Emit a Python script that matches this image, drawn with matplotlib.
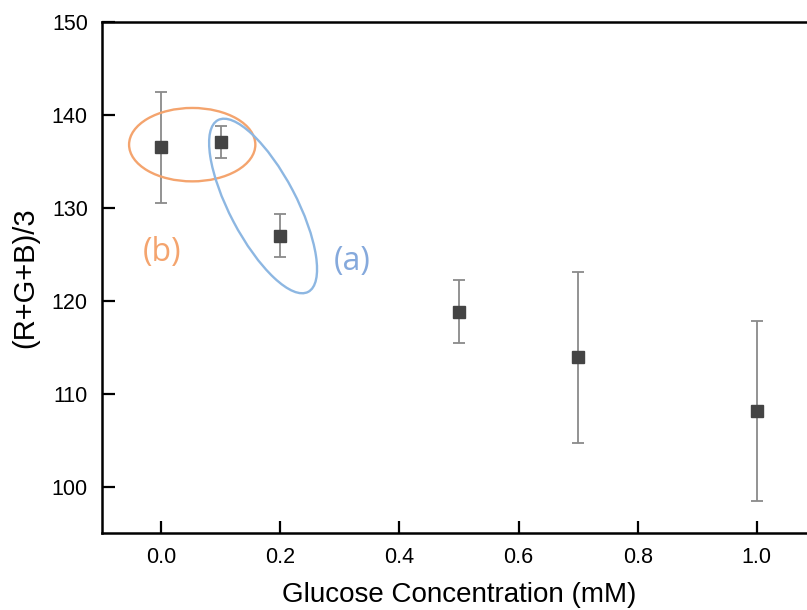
import matplotlib
matplotlib.use("Agg")
import matplotlib.pyplot as plt
from matplotlib.patches import Ellipse
from matplotlib.transforms import Affine2D

plt.rcParams['font.family'] = ['Liberation Sans', 'DejaVu Sans']

# data
glucose = [0.0, 0.1, 0.2, 0.5, 0.7, 1.0]
rgb_mean = [136.5, 137.1, 127.0, 118.8, 113.9, 108.1]
rgb_err = [6.0, 1.7, 2.3, 3.4, 9.2, 9.7]
x_ticks = [0.0, 0.2, 0.4, 0.6, 0.8, 1.0]
y_ticks = [100, 110, 120, 130, 140, 150]

orange = '#F4A46E'
blue = '#8DB7E2'

fig = plt.figure(figsize=(8.07, 6.10), dpi=100)
ax = fig.add_axes([0.126, 0.1262, 0.8856, 0.8377])

ax.errorbar(glucose, rgb_mean, yerr=rgb_err, fmt='s', color='#444444',
            markersize=8, ecolor='#8a8a8a', elinewidth=1.3, capsize=4.5,
            capthick=1.3, zorder=3)

ax.set_xlim(-0.1, 1.1)
ax.set_ylim(95, 150)
ax.set_xticks(x_ticks)
ax.set_yticks(y_ticks)
ax.set_xticklabels([f'{t:.1f}' for t in x_ticks])

ax.tick_params(direction='in', length=9, width=1.6, labelsize=15.5, pad=10,
               top=False, right=False)
for s in ax.spines.values():
    s.set_linewidth(1.8)

ax.set_xlabel('Glucose Concentration (mM)', fontsize=20, labelpad=10)
ax.set_ylabel('(R+G+B)/3', fontsize=21, labelpad=9)

# group (b): the two lowest concentrations
ax.add_patch(Ellipse((0.052, 136.8), 0.212, 7.9, fill=False,
                     edgecolor=orange, linewidth=1.7, zorder=4))

# group (a): tilted ellipse, sized in pixels so the tilt stays as drawn
cx, cy = ax.transData.transform((0.171, 130.2))
ax.add_patch(Ellipse((0, 0), 194, 67, angle=-62.3, fill=False,
                     edgecolor=blue, linewidth=1.7, zorder=4,
                     transform=Affine2D().translate(cx, cy)))

ax.text(0.001, 125.2, '(b)', color=orange, fontsize=23,
        family=['Open Sans', 'DejaVu Sans'], ha='center', va='center')
ax.text(0.320, 124.2, '(a)', color='#85A9DC', fontsize=23,
        family=['Open Sans', 'DejaVu Sans'], ha='center', va='center')

fig.savefig('out.png', dpi=100)
